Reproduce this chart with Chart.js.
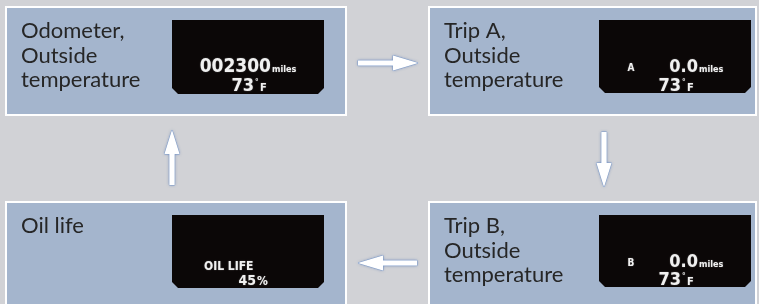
<!DOCTYPE html>
<html>
<head>
<meta charset="utf-8">
<script src="https://cdn.jsdelivr.net/npm/chart.js@4"></script>
<style>
  html, body { margin: 0; padding: 0; background: #d1d2d6; overflow: hidden; }
  canvas { display: block; }
</style>
</head>
<body>
<canvas id="myChart1" width="759" height="304"></canvas>
<script>
// display cycle, in the order the arrows go round
var steps = ["Odometer,\nOutside\ntemperature", "Trip A,\nOutside\ntemperature", "Trip B,\nOutside\ntemperature", "Oil life"];
var tripLetters = ["", "A", "B", ""];
var readingsTop = ["002300", "0.0", "0.0", "OIL LIFE"];
var readingsUnit = ["miles", "miles", "miles", ""];
var readingsBottom = ["73", "73", "73", "45"];
var readingsBottomUnit = ["°F", "°F", "°F", "%"];

// layout below (pixels in the 759x304 frame)
var boxes = [
  {x0: 5, y0: 6, x1: 347, y1: 116},
  {x0: 428, y0: 6, x1: 757, y1: 116},
  {x0: 428, y0: 201, x1: 757, y1: 312},
  {x0: 5, y0: 201, x1: 347, y1: 312}
];
var displays = [
  {x0: 172, y0: 20, x1: 324, y1: 94, topRight: 99, topBase: 52, topSize: 19, botRight: 82, botBase: 71, botSize: 18},
  {x0: 599, y0: 20, x1: 751, y1: 93, topRight: 99, topBase: 52, topSize: 18, botRight: 82, botBase: 71, botSize: 18},
  {x0: 599, y0: 215, x1: 751, y1: 287, topRight: 99, topBase: 52, topSize: 18, botRight: 82, botBase: 70, botSize: 18},
  {x0: 172, y0: 215, x1: 324, y1: 288, topLeft: 32, topBase: 55, topSize: 12, botRight: 84, botBase: 70, botSize: 14}
];
var arrows = [
  [358, 63, 418, 63],
  [604, 132, 604, 187],
  [417, 263, 358, 263],
  [172, 185, 172, 130]
];

var bgColor = "#d1d2d6";
var boxColor = "#a4b5cd";
var textColor = "#262626";
var displayColor = "#0b0707";
var condensed = '"DejaVu Sans Condensed", "DejaVu Sans", sans-serif';

function px(chart, v){ return chart.scales.x.getPixelForValue(v); }
function py(chart, v){ return chart.scales.y.getPixelForValue(v); }

function drawArrow(chart, c, a){
  var x0 = px(chart, a[0]), y0 = py(chart, a[1]), x1 = px(chart, a[2]), y1 = py(chart, a[3]);
  var dx = x1 - x0, dy = y1 - y0, len = Math.sqrt(dx*dx + dy*dy);
  var ux = dx/len, uy = dy/len, nx = -uy, ny = ux;
  var hw = 2.6, hh = 7.5, hl = (dy == 0) ? 25 : 24;
  var bx = x1 - ux*hl, by = y1 - uy*hl;
  c.save();
  c.beginPath();
  c.moveTo(x0 + nx*hw, y0 + ny*hw);
  c.lineTo(bx + nx*hw, by + ny*hw);
  c.lineTo(bx + nx*hh, by + ny*hh);
  c.lineTo(x1, y1);
  c.lineTo(bx - nx*hh, by - ny*hh);
  c.lineTo(bx - nx*hw, by - ny*hw);
  c.lineTo(x0 - nx*hw, y0 - ny*hw);
  c.closePath();
  c.shadowColor = "rgba(60, 100, 170, 0.7)";
  c.shadowBlur = 3;
  c.fillStyle = "#ffffff";
  c.fill();
  c.shadowBlur = 0;
  c.strokeStyle = "#84a0cc";
  c.lineWidth = 1;
  c.stroke();
  c.fillStyle = "#ffffff";
  c.fill();
  c.restore();
}

function drawDisplay(chart, c, i){
  var d = displays[i];
  var x0 = px(chart, d.x0), y0 = py(chart, d.y0), x1 = px(chart, d.x1), y1 = py(chart, d.y1);
  var ch = 6;
  c.beginPath();
  c.moveTo(x0, y0);
  c.lineTo(x1, y0);
  c.lineTo(x1, y1 - ch);
  c.lineTo(x1 - ch, y1);
  c.lineTo(x0 + ch, y1);
  c.lineTo(x0, y1 - ch);
  c.closePath();
  c.fillStyle = displayColor;
  c.fill();

  c.save();
  c.fillStyle = "#f0f0f0";
  c.shadowColor = "rgba(255,255,255,0.35)";
  c.shadowBlur = 1.5;
  c.textBaseline = "alphabetic";

  if (tripLetters[i]) {
    c.font = "bold 10px " + condensed;
    c.textAlign = "center";
    c.fillText(tripLetters[i], x0 + 32, y0 + 51);
  }

  if (readingsUnit[i]) {
    c.font = "bold " + d.topSize + "px " + condensed;
    c.textAlign = "right";
    c.fillText(readingsTop[i], x0 + d.topRight, y0 + d.topBase);
    c.font = "bold 9px " + condensed;
    c.textAlign = "left";
    c.fillText(readingsUnit[i], x0 + d.topRight + 1, y0 + d.topBase, 30);
  } else {
    c.font = "bold " + d.topSize + "px " + condensed;
    c.textAlign = "left";
    c.fillText(readingsTop[i], x0 + d.topLeft, y0 + d.topBase, 55);
  }

  c.font = "bold " + d.botSize + "px " + condensed;
  c.textAlign = "right";
  c.fillText(readingsBottom[i], x0 + d.botRight, y0 + d.botBase);
  var u = readingsBottomUnit[i];
  c.textAlign = "left";
  if (u.charAt(0) == "°") {
    c.font = "bold 8px " + condensed;
    c.fillText("°", x0 + d.botRight + 1, y0 + d.botBase - 6);
    c.font = "bold 11px " + condensed;
    c.fillText(u.slice(1), x0 + d.botRight + 6, y0 + d.botBase);
  } else {
    c.font = "bold 12px " + condensed;
    c.fillText(u, x0 + d.botRight + 1, y0 + d.botBase);
  }
  c.restore();
}

var diagramPlugin = {
  id: "diagram",
  beforeDraw: function(chart){
    var c = chart.ctx;
    c.save();
    c.fillStyle = bgColor;
    c.fillRect(0, 0, chart.width, chart.height);
    c.restore();
  },
  beforeDatasetsDraw: function(chart){
    var c = chart.ctx;
    c.save();
    for (var i = 0; i < steps.length; i++) {
      var b = boxes[i];
      var x0 = px(chart, b.x0), y0 = py(chart, b.y0), x1 = px(chart, b.x1), y1 = py(chart, b.y1);
      c.fillStyle = "#ffffff";
      c.fillRect(x0, y0, x1 - x0, y1 - y0);
      c.fillStyle = boxColor;
      c.fillRect(x0 + 2, y0 + 2, x1 - x0 - 4, y1 - y0 - 4);

      c.fillStyle = textColor;
      c.font = '22px Lato, "Open Sans", sans-serif';
      c.textAlign = "left";
      c.textBaseline = "alphabetic";
      var lines = steps[i].split("\n");
      for (var k = 0; k < lines.length; k++) {
        c.fillText(lines[k], x0 + 16, y0 + 32 + k*24.5);
      }
      drawDisplay(chart, c, i);
    }
    for (var j = 0; j < arrows.length; j++) drawArrow(chart, c, arrows[j]);
    c.restore();
  }
};

var ctx = document.getElementById("myChart1").getContext("2d");

var options = {
  responsive: false,
  animation: false,
  layout: { padding: 0 },
  plugins: { legend: { display: false }, tooltip: { enabled: false } },
  scales: {
    x: { type: "linear", min: 0, max: 759, display: false },
    y: { type: "linear", min: 0, max: 304, reverse: true, display: false }
  }
};

var diagram = new Chart(ctx, {
  type: "scatter",
  data: { datasets: [{ label: "cycle", data: [], pointRadius: 0 }] },
  options: options,
  plugins: [diagramPlugin]
});
</script>
</body>
</html>
